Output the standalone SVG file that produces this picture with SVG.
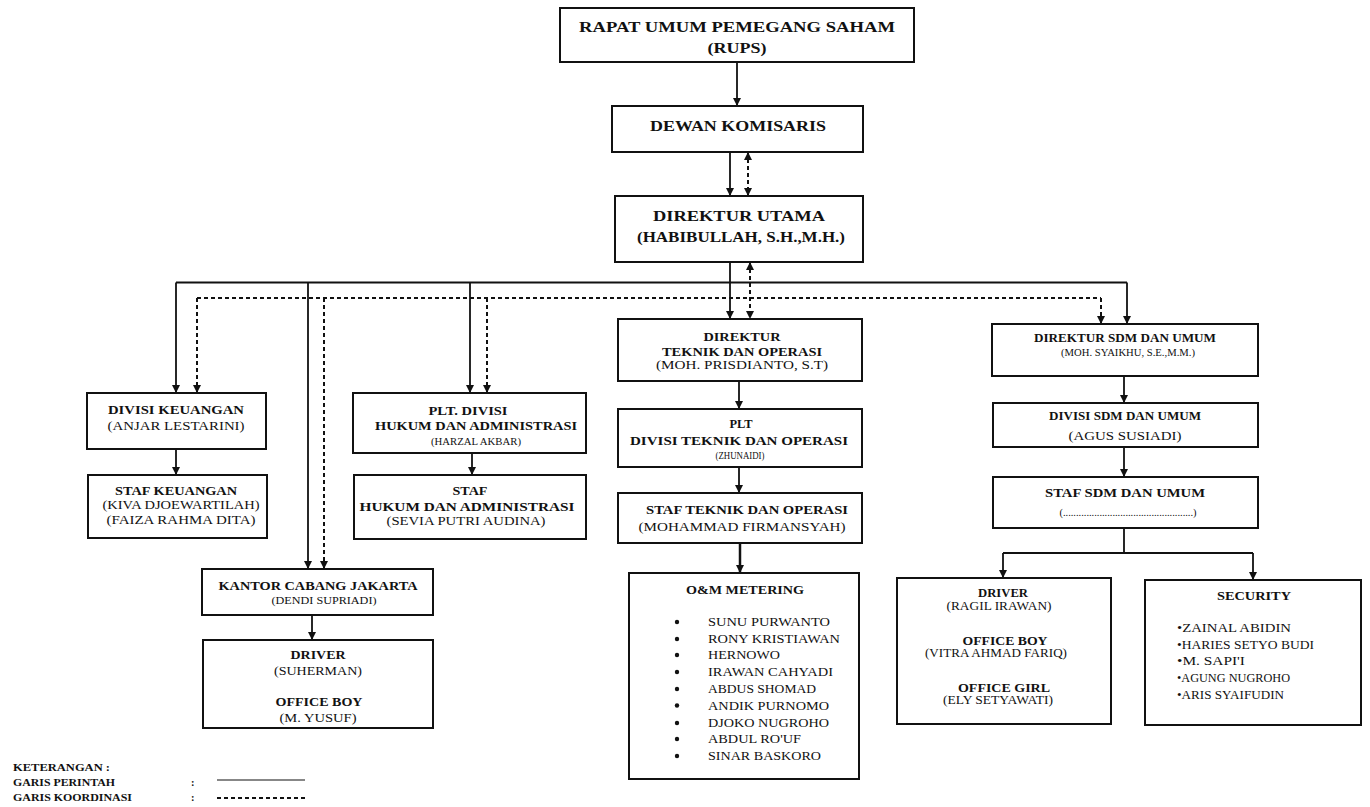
<svg xmlns="http://www.w3.org/2000/svg" width="1370" height="807" viewBox="0 0 1370 807">
<style>
.box{fill:#fff;stroke:#111;stroke-width:2}
.b{font-family:"Liberation Serif","Times New Roman",serif;font-weight:bold;text-anchor:middle;fill:#111;font-size:12px}
.r{font-family:"Liberation Serif","Times New Roman",serif;text-anchor:middle;fill:#111;font-size:11.5px}
.rl{font-family:"Liberation Serif","Times New Roman",serif;fill:#111;font-size:12px}
.bl{font-family:"Liberation Serif","Times New Roman",serif;font-weight:bold;fill:#111;font-size:10.5px}
.s{fill:none;stroke:#111;stroke-width:1.8}
.d{fill:none;stroke:#111;stroke-width:2;stroke-dasharray:4 3}
.a{marker-end:url(#ah)}
.aa{marker-end:url(#ah);marker-start:url(#ah)}
</style>
<defs>
<marker id="ah" markerUnits="userSpaceOnUse" markerWidth="9" markerHeight="9" refX="8" refY="4" orient="auto-start-reverse">
<path d="M0,0 L8,4 L0,8 z" fill="#111"/>
</marker>
</defs>
<rect x="0" y="0" width="1370" height="807" fill="#fff"/>

<g id="connectors">
<path class="s a" d="M737,62 V106"/>
<path class="s a" d="M730,152 V196"/>
<path class="d aa" d="M748,152 V196"/>
<path class="s a" d="M730,262 V319"/>
<path class="d aa" d="M750,262 V319"/>
<path class="s" d="M176,282.5 H1127"/>
<path class="s a" d="M176,282.5 V393"/>
<path class="s a" d="M308,282.5 V569"/>
<path class="s a" d="M470,282.5 V393"/>
<path class="s a" d="M1127,282.5 V324"/>
<path class="d" d="M197,298 H1101"/>
<path class="d a" d="M197,298 V393"/>
<path class="d a" d="M324,298 V569"/>
<path class="d a" d="M487,298 V393"/>
<path class="d a" d="M1101,298 V324"/>
<path class="s a" d="M176,449 V475"/>
<path class="s a" d="M472,453 V475"/>
<path class="s a" d="M312,615 V640"/>
<path class="s a" d="M739,381 V409"/>
<path class="s a" d="M739,467 V493"/>
<path class="s a" d="M740,543 V573" style="stroke-width:2.5"/>
<path class="s a" d="M1124,376 V403"/>
<path class="s a" d="M1124,447 V477"/>
<path class="s" d="M1124,528 V553 M1003,553 H1253"/>
<path class="s a" d="M1003,553 V578"/>
<path class="s a" d="M1253,553 V580"/>
</g>

<g id="rups">
<rect class="box" x="560" y="8" width="354" height="54"/>
<text class="b" x="737" y="31.5" style="font-size:14px" textLength="316" lengthAdjust="spacingAndGlyphs">RAPAT  UMUM  PEMEGANG SAHAM</text>
<text class="b" x="737" y="53" style="font-size:14px" textLength="59" lengthAdjust="spacingAndGlyphs">(RUPS)</text>
</g>
<g id="dewan-komisaris">
<rect class="box" x="612" y="106" width="251" height="46"/>
<text class="b" x="738" y="130.5" style="font-size:15px" textLength="176" lengthAdjust="spacingAndGlyphs">DEWAN KOMISARIS</text>
</g>
<g id="direktur-utama">
<rect class="box" x="615" y="196" width="248" height="66"/>
<text class="b" x="739" y="221" style="font-size:15px" textLength="172" lengthAdjust="spacingAndGlyphs">DIREKTUR UTAMA</text>
<text class="b" x="741" y="241.5" style="font-size:14px" textLength="208" lengthAdjust="spacingAndGlyphs">(HABIBULLAH, S.H.,M.H.)</text>
</g>

<g id="divisi-keuangan">
<rect class="box" x="87" y="393" width="179" height="56"/>
<text class="b" x="176" y="414" textLength="136" lengthAdjust="spacingAndGlyphs">DIVISI KEUANGAN</text>
<text class="r" x="176" y="430" style="font-size:12px" textLength="137" lengthAdjust="spacingAndGlyphs">(ANJAR LESTARINI)</text>
</g>
<g id="staf-keuangan">
<rect class="box" x="88" y="475" width="179" height="63"/>
<text class="b" x="176" y="495" textLength="122" lengthAdjust="spacingAndGlyphs">STAF KEUANGAN</text>
<text class="r" x="181" y="509" textLength="157" lengthAdjust="spacingAndGlyphs">(KIVA DJOEWARTILAH)</text>
<text class="r" x="181" y="524" textLength="149" lengthAdjust="spacingAndGlyphs">(FAIZA RAHMA DITA)</text>
</g>

<g id="plt-divisi-hukum">
<rect class="box" x="353" y="393" width="233" height="60"/>
<text class="b" x="468" y="415" textLength="79" lengthAdjust="spacingAndGlyphs">PLT. DIVISI</text>
<text class="b" x="476" y="430" textLength="202" lengthAdjust="spacingAndGlyphs">HUKUM DAN ADMINISTRASI</text>
<text class="r" x="476" y="445" style="font-size:11px" textLength="90" lengthAdjust="spacingAndGlyphs">(HARZAL AKBAR)</text>
</g>
<g id="staf-hukum">
<rect class="box" x="354" y="475" width="232" height="64"/>
<text class="b" x="470" y="495" textLength="35" lengthAdjust="spacingAndGlyphs">STAF</text>
<text class="b" x="467" y="511" textLength="215" lengthAdjust="spacingAndGlyphs">HUKUM DAN ADMINISTRASI</text>
<text class="r" x="466" y="525" style="font-size:12px" textLength="159" lengthAdjust="spacingAndGlyphs">(SEVIA PUTRI AUDINA)</text>
</g>

<g id="kantor-cabang-jakarta">
<rect class="box" x="202" y="569" width="231" height="46"/>
<text class="b" x="318" y="590" textLength="199" lengthAdjust="spacingAndGlyphs">KANTOR CABANG JAKARTA</text>
<text class="r" x="324" y="604" style="font-size:11px" textLength="105" lengthAdjust="spacingAndGlyphs">(DENDI SUPRIADI)</text>
</g>
<g id="driver-jakarta">
<rect class="box" x="203" y="640" width="230" height="88"/>
<text class="b" x="318" y="659" textLength="55" lengthAdjust="spacingAndGlyphs">DRIVER</text>
<text class="r" x="318" y="675" textLength="88" lengthAdjust="spacingAndGlyphs">(SUHERMAN)</text>
<text class="b" x="319" y="706" textLength="87" lengthAdjust="spacingAndGlyphs">OFFICE BOY</text>
<text class="r" x="318" y="722" textLength="77" lengthAdjust="spacingAndGlyphs">(M. YUSUF)</text>
</g>

<g id="direktur-teknik">
<rect class="box" x="618" y="319" width="244" height="62"/>
<text class="b" x="742" y="341" textLength="77" lengthAdjust="spacingAndGlyphs">DIREKTUR</text>
<text class="b" x="742" y="355.5" textLength="160" lengthAdjust="spacingAndGlyphs">TEKNIK DAN OPERASI</text>
<text class="r" x="742" y="369" style="font-size:12px" textLength="172" lengthAdjust="spacingAndGlyphs">(MOH. PRISDIANTO, S.T)</text>
</g>
<g id="plt-divisi-teknik">
<rect class="box" x="618" y="409" width="244" height="58"/>
<text class="b" x="741" y="428" textLength="23" lengthAdjust="spacingAndGlyphs">PLT</text>
<text class="b" x="739" y="444.5" textLength="218" lengthAdjust="spacingAndGlyphs">DIVISI TEKNIK DAN OPERASI</text>
<text class="r" x="740" y="459" style="font-size:10.5px" textLength="49" lengthAdjust="spacingAndGlyphs">(ZHUNAIDI)</text>
</g>
<g id="staf-teknik">
<rect class="box" x="618" y="493" width="244" height="50"/>
<text class="b" x="747" y="514" textLength="202" lengthAdjust="spacingAndGlyphs">STAF TEKNIK DAN OPERASI</text>
<text class="r" x="742" y="531" style="font-size:12px" textLength="207" lengthAdjust="spacingAndGlyphs">(MOHAMMAD FIRMANSYAH)</text>
</g>
<g id="om-metering">
<rect class="box" x="629" y="573" width="230" height="206"/>
<text class="b" x="745" y="594" textLength="118" lengthAdjust="spacingAndGlyphs">O&amp;M METERING</text>
<g fill="#111">
<circle cx="677" cy="622" r="2.2"/><circle cx="677" cy="639" r="2.2"/><circle cx="677" cy="655" r="2.2"/>
<circle cx="677" cy="672" r="2.2"/><circle cx="677" cy="689" r="2.2"/><circle cx="677" cy="705.5" r="2.2"/>
<circle cx="677" cy="723" r="2.2"/><circle cx="677" cy="739" r="2.2"/><circle cx="677" cy="756" r="2.2"/>
</g>
<text class="rl" x="708" y="626" textLength="122" lengthAdjust="spacingAndGlyphs">SUNU PURWANTO</text>
<text class="rl" x="708" y="643" textLength="132" lengthAdjust="spacingAndGlyphs">RONY KRISTIAWAN</text>
<text class="rl" x="708" y="659" textLength="72" lengthAdjust="spacingAndGlyphs">HERNOWO</text>
<text class="rl" x="708" y="676" textLength="125" lengthAdjust="spacingAndGlyphs">IRAWAN CAHYADI</text>
<text class="rl" x="708" y="693" textLength="108" lengthAdjust="spacingAndGlyphs">ABDUS SHOMAD</text>
<text class="rl" x="708" y="709.5" textLength="121" lengthAdjust="spacingAndGlyphs">ANDIK PURNOMO</text>
<text class="rl" x="708" y="727" textLength="121" lengthAdjust="spacingAndGlyphs">DJOKO NUGROHO</text>
<text class="rl" x="708" y="743" textLength="93" lengthAdjust="spacingAndGlyphs">ABDUL RO'UF</text>
<text class="rl" x="708" y="760" textLength="113" lengthAdjust="spacingAndGlyphs">SINAR BASKORO</text>
</g>

<g id="direktur-sdm">
<rect class="box" x="992" y="324" width="266" height="52"/>
<text class="b" x="1125" y="342" textLength="182" lengthAdjust="spacingAndGlyphs">DIREKTUR SDM DAN UMUM</text>
<text class="r" x="1128" y="356" style="font-size:11px" textLength="134" lengthAdjust="spacingAndGlyphs">(MOH. SYAIKHU, S.E.,M.M.)</text>
</g>
<g id="divisi-sdm">
<rect class="box" x="993" y="403" width="265" height="44"/>
<text class="b" x="1125" y="420" textLength="152" lengthAdjust="spacingAndGlyphs">DIVISI SDM DAN UMUM</text>
<text class="r" x="1125" y="440" style="font-size:12.5px" textLength="113" lengthAdjust="spacingAndGlyphs">(AGUS SUSIADI)</text>
</g>
<g id="staf-sdm">
<rect class="box" x="993" y="477" width="265" height="51"/>
<text class="b" x="1125" y="497" textLength="160" lengthAdjust="spacingAndGlyphs">STAF SDM DAN UMUM</text>
<text class="r" x="1128" y="516" style="font-size:11px" textLength="137" lengthAdjust="spacingAndGlyphs">(..................................................)</text>
</g>
<g id="driver-sdm">
<rect class="box" x="897" y="578" width="214" height="146"/>
<text class="b" x="1003" y="597" textLength="50" lengthAdjust="spacingAndGlyphs">DRIVER</text>
<text class="r" x="999" y="610" textLength="105" lengthAdjust="spacingAndGlyphs">(RAGIL IRAWAN)</text>
<text class="b" x="1005" y="645" textLength="85" lengthAdjust="spacingAndGlyphs">OFFICE BOY</text>
<text class="r" x="996" y="657" textLength="142" lengthAdjust="spacingAndGlyphs">(VITRA AHMAD FARIQ)</text>
<text class="b" x="1004" y="692" textLength="92" lengthAdjust="spacingAndGlyphs">OFFICE GIRL</text>
<text class="r" x="998" y="704" textLength="110" lengthAdjust="spacingAndGlyphs">(ELY SETYAWATI)</text>
</g>
<g id="security">
<rect class="box" x="1145" y="580" width="216" height="145"/>
<text class="b" x="1254" y="600" textLength="74" lengthAdjust="spacingAndGlyphs">SECURITY</text>
<text class="rl" x="1177" y="632" textLength="114" lengthAdjust="spacingAndGlyphs">•ZAINAL ABIDIN</text>
<text class="rl" x="1177" y="649" textLength="137" lengthAdjust="spacingAndGlyphs">•HARIES SETYO BUDI</text>
<text class="rl" x="1177" y="665" textLength="68" lengthAdjust="spacingAndGlyphs">•M. SAPI'I</text>
<text class="rl" x="1177" y="682" textLength="113" lengthAdjust="spacingAndGlyphs">•AGUNG NUGROHO</text>
<text class="rl" x="1177" y="699" textLength="107" lengthAdjust="spacingAndGlyphs">•ARIS SYAIFUDIN</text>
</g>

<g id="legend">
<text class="bl" x="13" y="771" textLength="97" lengthAdjust="spacingAndGlyphs">KETERANGAN :</text>
<text class="bl" x="13" y="786" textLength="102" lengthAdjust="spacingAndGlyphs">GARIS PERINTAH</text>
<text class="bl" x="13" y="801" textLength="119" lengthAdjust="spacingAndGlyphs">GARIS KOORDINASI</text>
<text class="bl" x="191" y="786">:</text>
<text class="bl" x="191" y="801">:</text>
<path class="s" d="M217,780 H305" style="stroke-width:1.2"/>
<path class="d" d="M217,798 H305" style="stroke-width:1.8"/>
</g>
</svg>
